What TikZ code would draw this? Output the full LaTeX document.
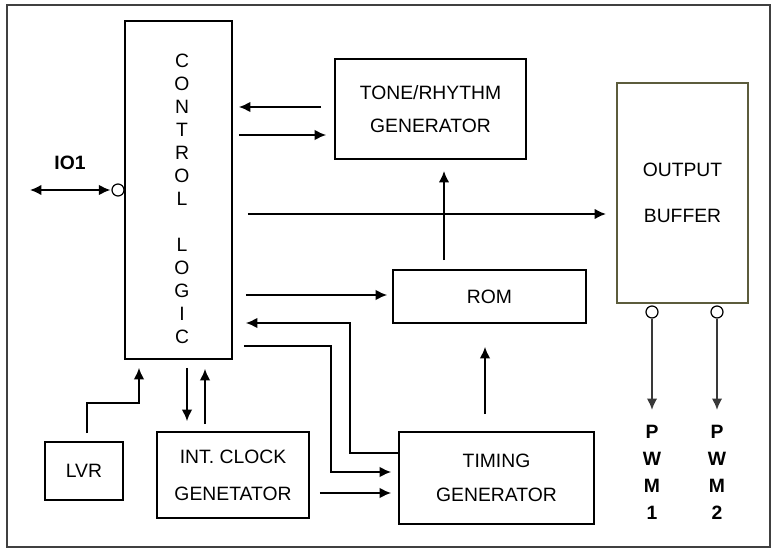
\documentclass[tikz,border=0pt]{standalone}
\usepackage{fontspec}
\setmainfont{Liberation Sans}
\usetikzlibrary{arrows.meta, positioning}
\definecolor{olivedark}{RGB}{92,92,60}

\begin{document}
\begin{tikzpicture}[x=0.02cm, y={(0cm,-0.02cm)}, font=\fontsize{11}{19}\selectfont]

    \tikzstyle{block} = [rectangle, draw, line width=1pt, align=center, inner sep=0pt]
    \tikzstyle{arrow} = [line width=1pt, ->, >={Latex[length=6.5pt,width=6pt]}]
    \tikzstyle{bus} = [line width=1.6pt, ->, >={Latex[length=6.5pt,width=6pt]}]
    \tikzstyle{ring} = [circle, draw, line width=0.7pt, minimum size=0.24cm, inner sep=0pt, fill=white]
    \tikzstyle{tag} = [font=\fontsize{11}{15.4}\selectfont\bfseries, align=center, inner sep=0pt]

    \useasboundingbox (0,0) rectangle (776,550);
    \draw [line width=1pt, black!75] (7,5) rectangle (770,547);

    \node (ctl) [block, minimum width=2.14cm, minimum height=6.76cm] at (178.5,190) {};
    \node (ctltxt) [align=center, inner sep=0pt, font=\fontsize{11}{13.1}\selectfont] at (182,198.5) {C\\O\\N\\T\\R\\O\\L\\ \\L\\O\\G\\I\\C};
    \node (tone) [block, minimum width=3.82cm, minimum height=2cm] at (430.5,109) {TONE/RHYTHM\\GENERATOR};
    \node (buf) [block, draw=olivedark, minimum width=2.62cm, minimum height=4.4cm, font=\fontsize{11}{26}\selectfont] at (682.5,193) {OUTPUT\\BUFFER};
    \node (rom) [block, minimum width=3.86cm, minimum height=1.06cm] at (489.5,296.5) {ROM};
    \node (tim) [block, minimum width=3.9cm, minimum height=1.84cm] at (496.5,478) {TIMING\\GENERATOR};
    \node (clk) [block, minimum width=3.04cm, minimum height=1.72cm, font=\fontsize{11}{21}\selectfont] at (233,475) {INT. CLOCK\\GENETATOR};
    \node (lvr) [block, minimum width=1.56cm, minimum height=1.16cm] at (84,471) {LVR};

    % port on the left
    \node (io) [ring] at (118,190) {};
    \coordinate (ioend) at (30,190);
    \node (iolabel) [tag] at (70,163) {IO1};

    % output pins
    \node (pin1) [ring] at (652,312) {};
    \node (pin2) [ring] at (717,312) {};
    \node (pwm1) [tag] at (652,472.5) {P\\W\\M\\1};
    \node (pwm2) [tag] at (717,472.5) {P\\W\\M\\2};

    \draw [arrow, shorten <=0.26cm, shorten >=0.12cm] (tone.west |- 0,107) -- (ctl.east |- 0,107);
    \draw [arrow, shorten <=0.12cm, shorten >=0.16cm] (ctl.east |- 0,135) -- (tone.west |- 0,135);
    \draw [bus, shorten <=0.3cm, shorten >=0.2cm] (ctl.east |- 0,214) -- (buf.west |- 0,214);
    \draw [bus, shorten <=0.18cm, shorten >=0.22cm] (rom.north -| 444,0) -- (tone.south -| 444,0);
    \draw [arrow, shorten <=0.26cm, shorten >=0.1cm] (ctl.east |- 0,295) -- (rom.west |- 0,295);
    \draw [arrow, shorten <=0.34cm, shorten >=0.46cm] (tim.north -| 485,0) -- (rom.south -| 485,0);
    \draw [arrow, shorten >=0.26cm] (tim.west |- 0,453) -| (350,323) -- (ctl.east |- 0,323);
    \draw [arrow, shorten <=0.22cm, shorten >=0.14cm] (ctl.east |- 0,346) -| (331,472) -- (tim.west |- 0,472);
    \draw [arrow, shorten <=0.2cm, shorten >=0.14cm] (clk.east |- 0,493) -- (tim.west |- 0,493);
    \draw [arrow, shorten <=0.16cm, shorten >=0.2cm] (ctl.south -| 187,0) -- (clk.north -| 187,0);
    \draw [arrow, shorten <=0.14cm, shorten >=0.18cm] (clk.north -| 205,0) -- (ctl.south -| 205,0);
    \draw [arrow, shorten <=0.16cm, shorten >=0.16cm] (lvr.north -| 87,0) |- (139,403) -- (ctl.south -| 139,0);
    \draw [arrow, <->, shorten >=0.02cm] (ioend) -- (io.west);

    \draw [arrow, gray!45!black, shorten >=0.3cm] (pin1) -- (pwm1);
    \draw [arrow, gray!45!black, shorten >=0.3cm] (pin2) -- (pwm2);

\end{tikzpicture}
\end{document}
